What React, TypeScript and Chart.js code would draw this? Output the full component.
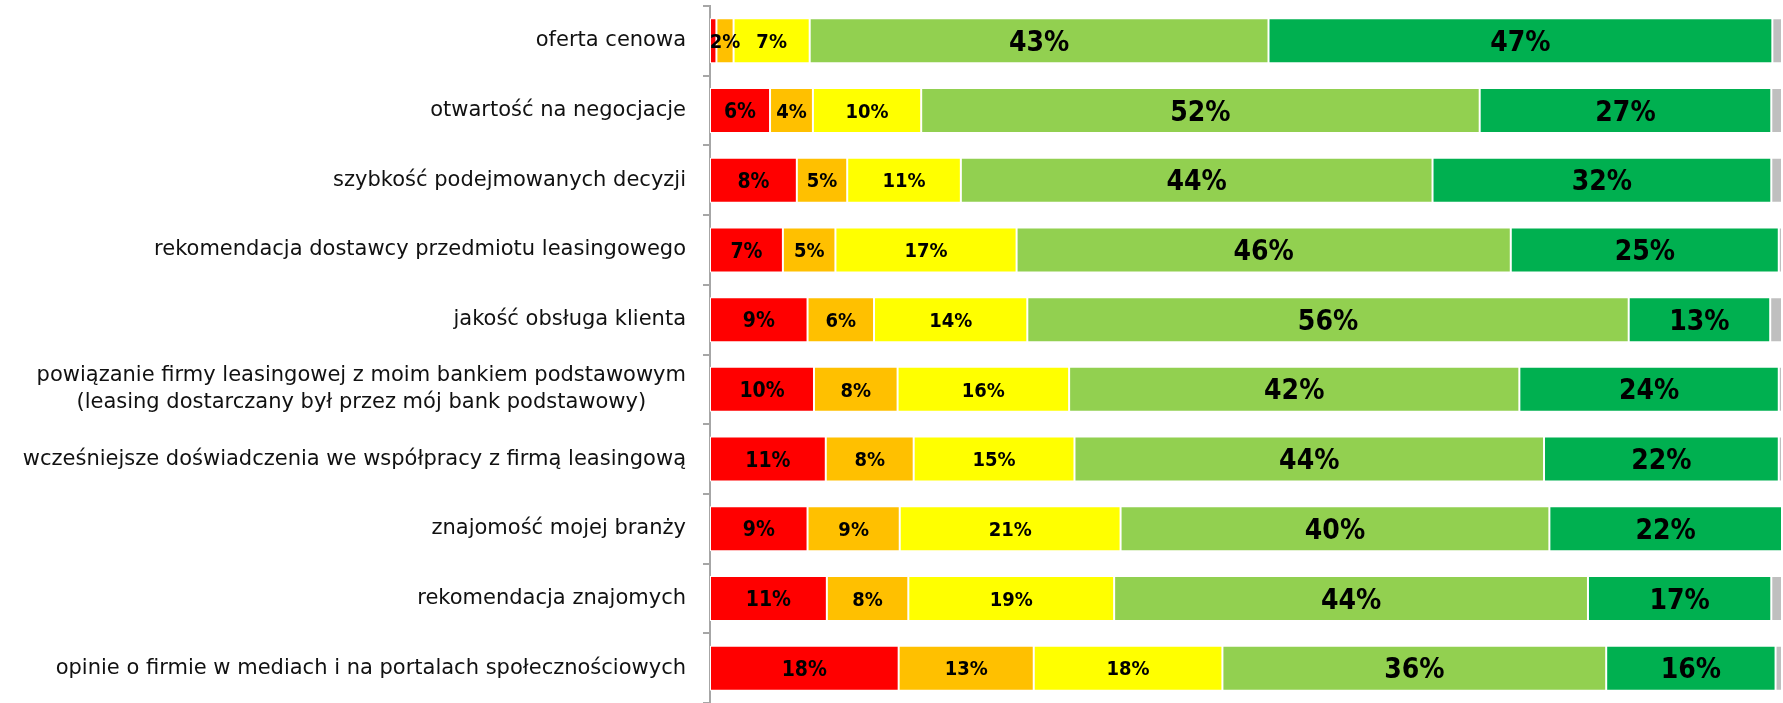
import React, { useEffect, useRef } from "react";
import { Chart, registerables } from "chart.js";

Chart.register(...registerables);

const categories: string[][] = [
  ["oferta cenowa"],
  ["otwartość na negocjacje"],
  ["szybkość podejmowanych decyzji"],
  ["rekomendacja dostawcy przedmiotu leasingowego"],
  ["jakość obsługa klienta"],
  ["powiązanie firmy leasingowej z moim bankiem podstawowym", "(leasing dostarczany był przez mój bank podstawowy)"],
  ["wcześniejsze doświadczenia we współpracy z firmą leasingową"],
  ["znajomość mojej branży"],
  ["rekomendacja znajomych"],
  ["opinie o firmie w mediach i na portalach społecznościowych"],
];

const red = [0.6, 5.6, 8.1, 6.8, 9.1, 9.7, 10.8, 9.1, 10.9, 17.6];
const orange = [1.6, 4.0, 4.7, 4.9, 6.2, 7.8, 8.2, 8.6, 7.6, 12.6];
const yellow = [7.1, 10.1, 10.6, 16.9, 14.3, 16.0, 15.0, 20.6, 19.2, 17.6];
const lightGreen = [42.8, 52.1, 44.0, 46.1, 56.1, 42.0, 43.8, 40.0, 44.2, 35.8];
const darkGreen = [47.0, 27.2, 31.6, 25.0, 13.2, 24.2, 21.9, 21.7, 17.1, 15.8];
const grey = [0.9, 1.0, 1.0, 0.3, 1.1, 0.3, 0.3, 0, 1.0, 0.6];

const LABEL_FONT = '"DejaVu Sans", sans-serif';
const VALUE_FONT = '"DejaVu Sans Condensed", "DejaVu Sans", sans-serif';

export default function App() {
  const ref = useRef<HTMLCanvasElement | null>(null);

  useEffect(() => {
    document.body.style.margin = "0";
    const canvas = ref.current;
    if (!canvas) return;

    const labelSizes = [21, 20, 20, 28, 28];

    const dataLabels = {
      id: "dataLabels",
      afterDatasetsDraw(chart: any) {
        const ctx = chart.ctx;
        ctx.save();
        ctx.fillStyle = "#000";
        ctx.textAlign = "center";
        ctx.textBaseline = "alphabetic";
        for (let d = 0; d < 5; d++) {
          const meta = chart.getDatasetMeta(d);
          const vals = chart.data.datasets[d].data as number[];
          const size = labelSizes[d];
          ctx.font = `bold ${size}px ${VALUE_FONT}`;
          meta.data.forEach((el: any, i: number) => {
            const v = vals[i];
            if (v < 1) return;
            const x = (el.x + el.base) / 2;
            const y = el.y + size * 0.36;
            ctx.fillText(Math.round(v) + "%", x, y);
          });
        }
        ctx.restore();
      },
    };

    const catLabels = {
      id: "catLabels",
      afterDraw(chart: any) {
        const ctx = chart.ctx;
        const ys = chart.scales.y;
        const rightX = chart.chartArea.left - 24;
        const size = 21;
        const lh = 27;
        ctx.save();
        ctx.fillStyle = "#111";
        ctx.font = `${size}px ${LABEL_FONT}`;
        ctx.textAlign = "center";
        ctx.textBaseline = "middle";
        categories.forEach((lines, i) => {
          const cy = ys.getPixelForValue(i);
          let maxW = 0;
          lines.forEach((l) => (maxW = Math.max(maxW, ctx.measureText(l).width)));
          const cx = rightX - maxW / 2;
          const y0 = cy - ((lines.length - 1) * lh) / 2;
          lines.forEach((l, k) => ctx.fillText(l, cx, y0 + k * lh));
        });
        ctx.restore();
      },
    };

    const mk = (label: string, data: number[], color: string) => ({
      label,
      data,
      backgroundColor: color,
      borderColor: "#ffffff",
      borderWidth: 1,
      borderSkipped: false,
      barPercentage: 0.645,
      categoryPercentage: 1,
    });

    const chart = new Chart(canvas, {
      type: "bar",
      data: {
        labels: categories.map((c) => c.join(" ")),
        datasets: [
          mk("1", red, "#FF0000"),
          mk("2", orange, "#FFC000"),
          mk("3", yellow, "#FFFF00"),
          mk("4", lightGreen, "#92D050"),
          mk("5", darkGreen, "#00B050"),
          mk("brak", grey, "#BFBFBF"),
        ],
      },
      options: {
        indexAxis: "y",
        animation: false,
        responsive: true,
        maintainAspectRatio: false,
        layout: { padding: { top: 6, right: 1, bottom: 0, left: 0 } },
        plugins: {
          legend: { display: false },
          tooltip: { enabled: false },
        },
        scales: {
          x: {
            stacked: true,
            min: 0,
            max: 100,
            display: false,
          },
          y: {
            stacked: true,
            afterFit: (scale: any) => {
              scale.width = 710;
            },
            ticks: { display: false },
            grid: {
              display: true,
              offset: true,
              drawOnChartArea: false,
              drawTicks: true,
              tickLength: 7,
              color: "#A6A6A6",
              lineWidth: 2,
            },
            border: { display: true, color: "#A6A6A6", width: 2 },
          },
        },
      },
      plugins: [dataLabels, catLabels],
    } as any);

    return () => chart.destroy();
  }, []);

  return (
    <div style={{ width: "1783px", height: "703px", position: "relative" }}>
      <canvas ref={ref} />
    </div>
  );
}
